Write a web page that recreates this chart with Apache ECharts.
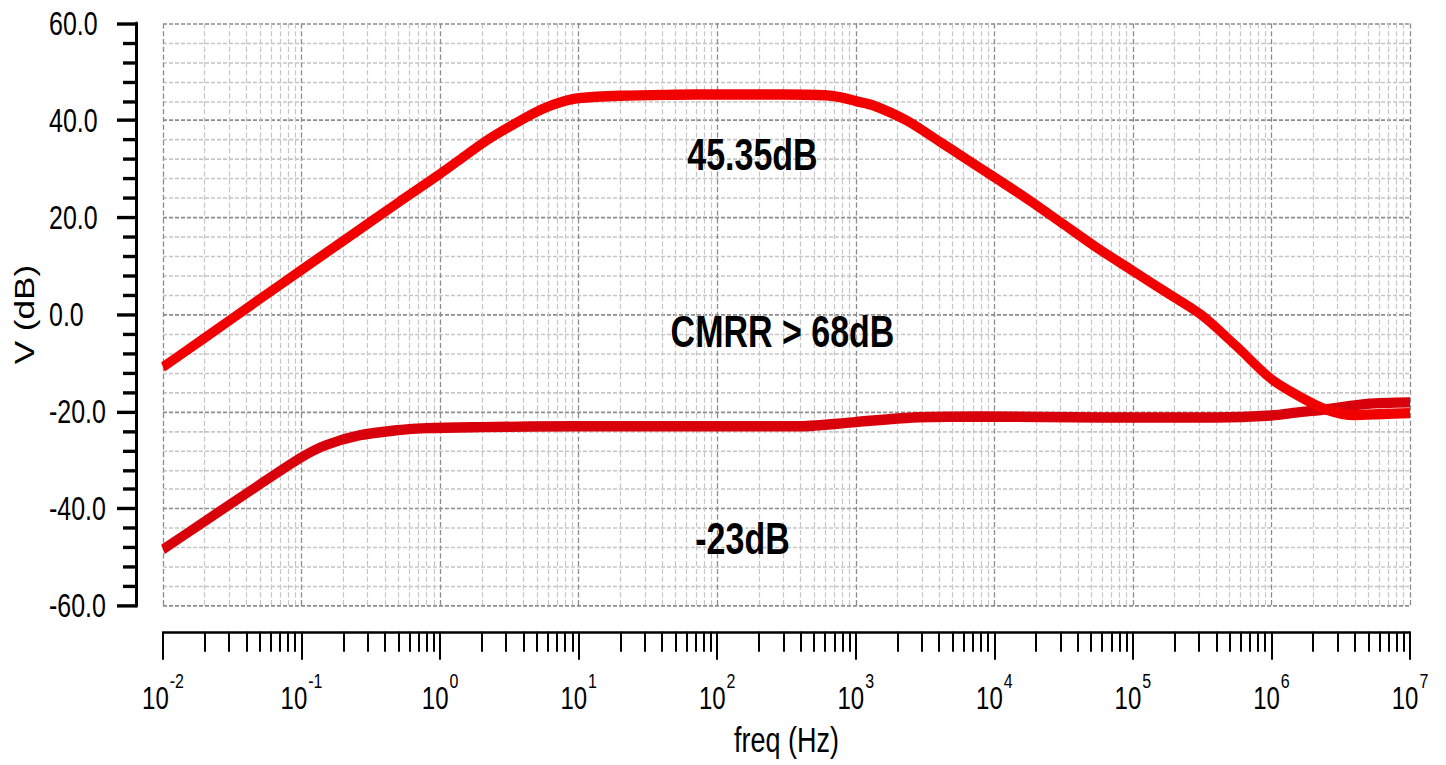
<!DOCTYPE html>
<html>
<head>
<meta charset="utf-8">
<script src="https://cdn.jsdelivr.net/npm/echarts@6/dist/echarts.min.js"></script>
<style>
  html, body { margin: 0; padding: 0; background: #fff; overflow: hidden; }
  #wrap { width: 1446px; height: 765px; overflow: hidden; }
  /* the plot is drawn at 589px tall and stretched vertically to fill 765px */
  #chart { width: 1446px; height: 589px; transform: scaleY(1.29881); transform-origin: 0 0; }
</style>
</head>
<body>
<div id="wrap"><div id="chart"></div></div>
<script>
// Differential-mode gain of the amplifier (upper trace), frequency in Hz, gain in dB
const diffFreq = [0.01, 0.02, 0.05, 0.1, 0.2, 0.5, 1, 1.4, 2.2, 3.8, 5.5, 7.7, 10, 20, 50,
  100, 300, 600, 770, 1000, 1340, 2330, 4050, 7050, 10000, 17800, 31600, 56200, 100000,
  178000, 316000, 562000, 1000000, 1600000, 2500000, 3980000, 6300000, 10000000];
const diffGain = [-10.8, -4.8, 3.2, 9.2, 15.2, 23.1, 29.0, 32.0, 36.0, 40.0, 42.4, 43.9, 44.6, 45.1, 45.3,
  45.35, 45.35, 45.2, 44.8, 44.0, 43.1, 40.0, 35.6, 31.1, 28.3, 23.6, 18.6, 13.6, 9.0,
  4.4, -0.2, -6.6, -13.3, -16.9, -19.6, -20.7, -20.5, -20.3];

// Common-mode gain (lower trace)
const cmFreq = [0.01, 0.02, 0.05, 0.1, 0.15, 0.26, 0.5, 0.8, 2, 10, 100, 400, 950, 2600, 8000,
  60000, 400000, 1000000, 1600000, 2500000, 4900000, 10000000];
const cmGain = [-48.4, -42.6, -35.0, -29.4, -26.9, -24.9, -23.8, -23.4, -23.2, -23.0, -23.0, -23.0, -22.2, -21.2, -21.0,
  -21.2, -21.2, -20.8, -20.1, -19.5, -18.4, -18.1];

// Annotated levels
const DIFF_PEAK = 45.35;
const CM_FLAT = -23;

// Axis ticks: decades 10^-2 .. 10^7, minor ticks at 2..9 inside each decade
const decadeExponents = [-2, -1, 0, 1, 2, 3, 4, 5, 6, 7];
const minorMultipliers = [2, 3, 4, 5, 6, 7, 8, 9];
const yMin = -60, yMax = 60, yStep = 20;

const FONT = '"Liberation Sans", Arial, Helvetica, sans-serif';
const decadeValues = decadeExponents.map(e => Math.pow(10, e));
const minorValues = [];
decadeExponents.slice(0, -1).forEach(e => {
  minorMultipliers.forEach(m => minorValues.push(m * Math.pow(10, e)));
});

const majorGrid = { show: true, lineStyle: { color: '#8c8c8c', type: [4, 2], width: 1.3 } };
const minorGrid = { show: true, lineStyle: { color: '#c6c6c6', type: [4, 2], width: 1.2 } };

const chart = echarts.init(document.getElementById('chart'), null, { renderer: 'svg' });

const annotations = [
  { text: DIFF_PEAK.toFixed(2) + 'dB', x: 752.5, y: 118.6 },
  { text: 'CMRR > ' + Math.floor(DIFF_PEAK - CM_FLAT) + 'dB', x: 782.5, y: 254.9 },
  { text: CM_FLAT + 'dB', x: 742.5, y: 414.2 }
];

chart.setOption({
  animation: false,
  backgroundColor: '#fff',
  textStyle: { fontFamily: FONT },
  grid: { left: 163, right: 36, top: 18, bottom: 122.6, containLabel: false },
  xAxis: [
    {
      type: 'log', logBase: 10, min: 0.01, max: 1e7,
      position: 'bottom', offset: 20,
      name: 'freq (Hz)', nameLocation: 'middle', nameGap: 70,
      nameTextStyle: { fontSize: 27, color: '#000', fontFamily: FONT },
      axisLine: { show: true, onZero: false, lineStyle: { color: '#000', width: 2 } },
      axisTick: { show: true, customValues: decadeValues, length: 21.6, lineStyle: { color: '#000', width: 2 } },
      axisLabel: {
        show: true, customValues: decadeValues, margin: 30, color: '#000',
        formatter: v => '{b|10}{e|' + Math.round(Math.log10(v)) + '}',
        rich: {
          b: { fontSize: 24, color: '#000', fontFamily: FONT },
          e: { fontSize: 16, color: '#000', fontFamily: FONT, padding: [0, 0, 26, 1] }
        }
      },
      splitLine: majorGrid,
      minorTick: { show: false },
      minorSplitLine: { show: false }
    },
    {
      type: 'log', logBase: 10, min: 0.01, max: 1e7,
      position: 'bottom', offset: 20,
      axisLine: { show: false, onZero: false },
      axisTick: { show: true, customValues: minorValues, length: 15.4, lineStyle: { color: '#000', width: 2 } },
      axisLabel: { show: false },
      splitLine: minorGrid
    }
  ],
  yAxis: {
    type: 'value', min: yMin, max: yMax, interval: yStep, offset: 27,
    name: 'V (dB)', nameLocation: 'middle', nameGap: 92,
    nameTextStyle: { fontSize: 27, color: '#000', fontFamily: FONT },
    axisLine: { show: true, onZero: false, lineStyle: { color: '#000', width: 3 } },
    axisTick: { show: true, length: 19, lineStyle: { color: '#000', width: 2.6 } },
    minorTick: { show: true, splitNumber: 5, length: 13, lineStyle: { color: '#000', width: 2.6 } },
    axisLabel: { formatter: v => v.toFixed(1), fontSize: 25, color: '#000', align: 'left', margin: 87, fontFamily: FONT },
    splitLine: majorGrid,
    minorSplitLine: minorGrid
  },
  series: [
    {
      name: 'common-mode', type: 'line', xAxisIndex: 0, yAxisIndex: 0,
      data: cmFreq.map((f, i) => [f, cmGain[i]]),
      showSymbol: false, smooth: 0.3, z: 3,
      lineStyle: { width: 8, color: '#d8000a' }
    },
    {
      name: 'differential', type: 'line', xAxisIndex: 0, yAxisIndex: 0,
      data: diffFreq.map((f, i) => [f, diffGain[i]]),
      showSymbol: false, smooth: 0.3, z: 4,
      lineStyle: { width: 8, color: '#f20000' }
    }
  ],
  graphic: annotations.map(a => ({
    type: 'text', x: a.x, y: a.y, z: 10,
    style: {
      text: a.text, fill: '#000',
      font: 'bold 34px ' + FONT,
      textAlign: 'center', textVerticalAlign: 'middle',
      align: 'center', verticalAlign: 'middle'
    }
  }))
});
</script>
</body>
</html>
